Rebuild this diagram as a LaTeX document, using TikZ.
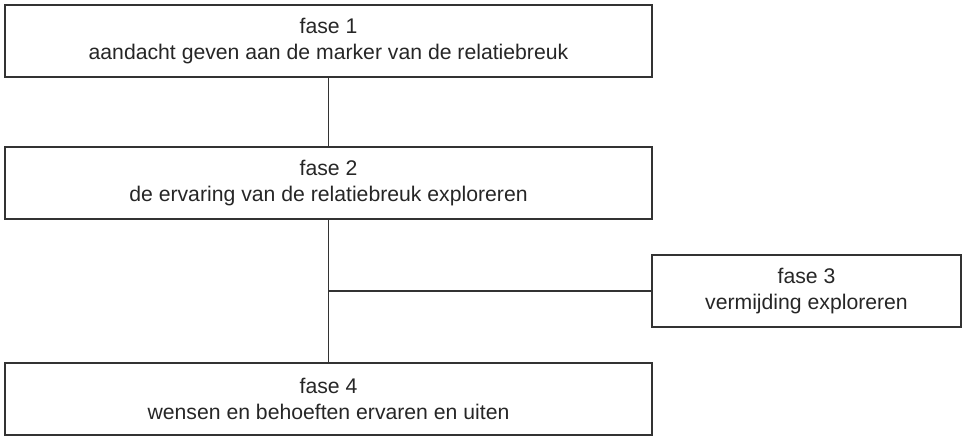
\documentclass[tikz,border=0pt]{standalone}
\usepackage{fontspec}
\setmainfont{Liberation Sans}
\usepackage{tikz}

\tikzset{
  phase/.style={draw=black!80, line width=0.55pt, text=black!85, align=center,
    inner sep=0pt, minimum height=36pt,
    font=\fontsize{10.6}{12.6}\selectfont},
  link/.style={draw=black!80, line width=0.55pt}
}

\begin{document}
\begin{tikzpicture}[x=0.5pt,y=-0.5pt]
\useasboundingbox (0,0) rectangle (963,436);

% phases
\node[phase, minimum width=323.5pt] (fase1) at (328.5,41) {fase 1\\aandacht geven aan de marker van de relatiebreuk};
\node[phase, minimum width=323.5pt] (fase2) at (328.5,183) {fase 2\\de ervaring van de relatiebreuk exploreren};
\node[phase, minimum width=154.5pt] (fase3) at (806.5,291) {fase 3\\vermijding exploreren};
\node[phase, minimum width=323.5pt] (fase4) at (328.5,399) {fase 4\\wensen en behoeften ervaren en uiten};

% connectors
\coordinate (split) at (fase2.south |- fase3.west);
\draw[link] (fase1) -- (fase2);
\draw[link] (fase2) -- (fase4);
\draw[link] (split) -- (fase3.west);
\end{tikzpicture}
\end{document}
